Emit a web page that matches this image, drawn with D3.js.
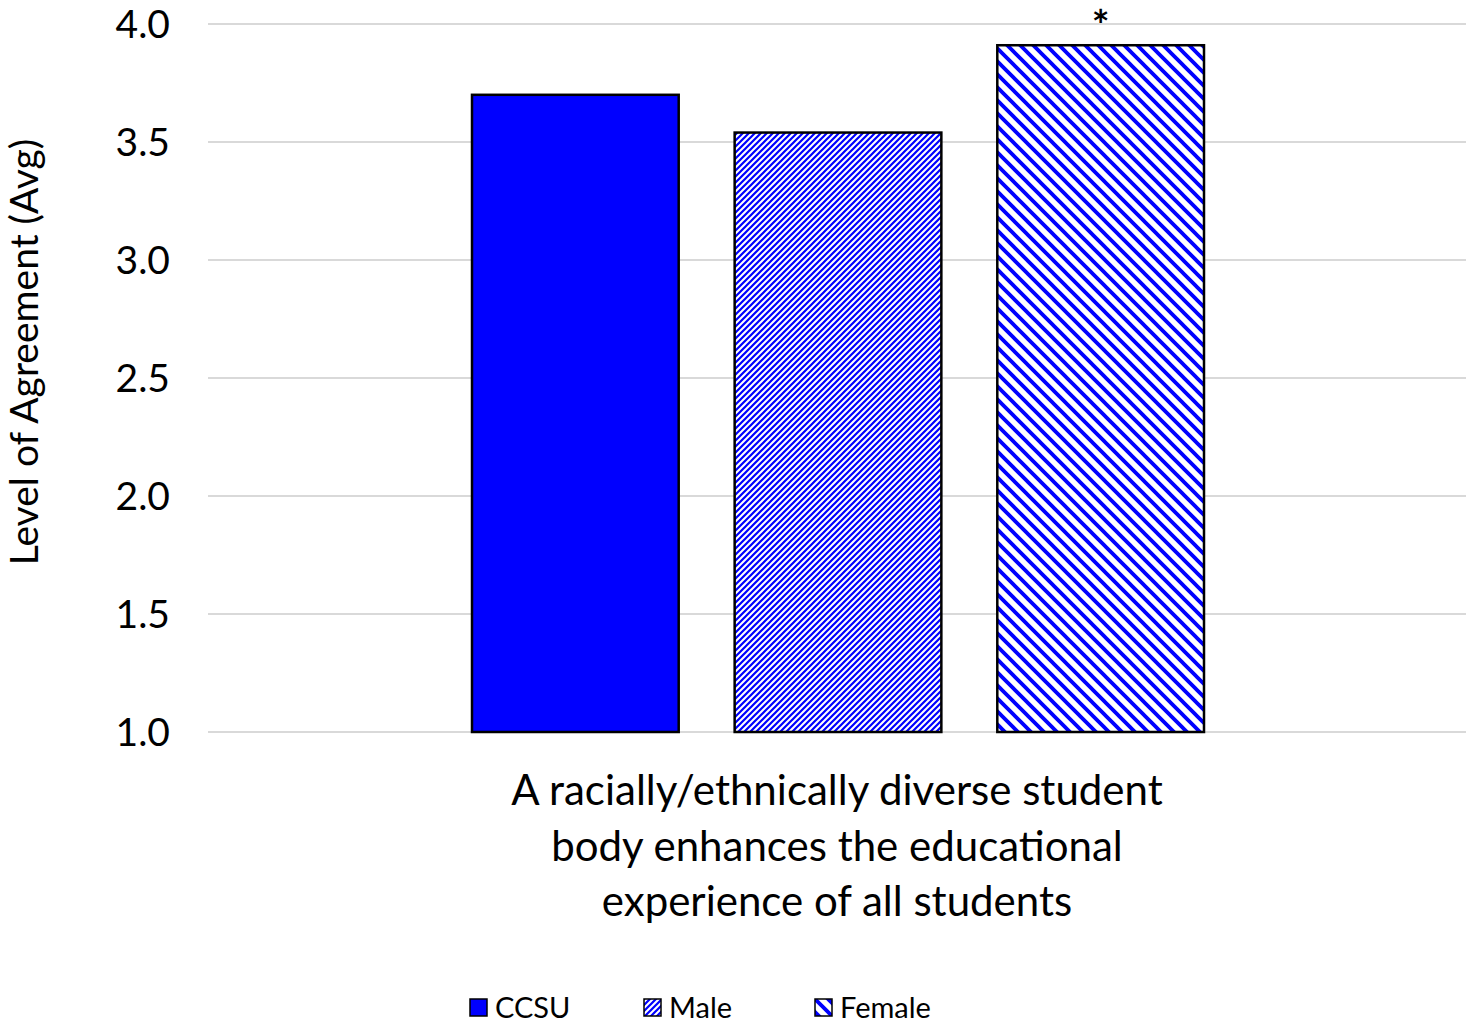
<!DOCTYPE html>
<html><head><meta charset="utf-8">
<script src="https://cdn.jsdelivr.net/npm/d3@7"></script>
<style>body{margin:0;background:#fff}svg{display:block}text{font-family:Lato,"Open Sans",sans-serif}</style>
</head><body>
<svg id="c" width="1468" height="1026"></svg>
<script>
const category = ["A racially/ethnically diverse student body enhances the educational experience of all students"];
const categoryLines = ["A racially/ethnically diverse student", "body enhances the educational", "experience of all students"];
const seriesNames = ["CCSU", "Male", "Female"];
const seriesValues = [3.70, 3.54, 3.91];
const significance = ["", "", "*"];
const yTicks = [1.0, 1.5, 2.0, 2.5, 3.0, 3.5, 4.0];

const svg = d3.select("#c");
const defs = svg.append("defs");
// Male: fine up-diagonal
const pm = defs.append("pattern").attr("id","pMale").attr("patternUnits","userSpaceOnUse")
  .attr("width",6).attr("height",6);
pm.append("rect").attr("width",6).attr("height",6).attr("fill","#fff");
pm.append("path").attr("d","M-1,1 l2,-2 M0,6 l6,-6 M5,7 l2,-2").attr("stroke","#0000ff").attr("stroke-width",2.2);
// Female: wide down-diagonal
const pf = defs.append("pattern").attr("id","pFemale").attr("patternUnits","userSpaceOnUse")
  .attr("width",13).attr("height",13);
pf.append("rect").attr("width",13).attr("height",13).attr("fill","#fff");
pf.append("path").attr("d","M-2,-2 l17,17 M-2,11 l4,4 M11,-2 l4,4").attr("stroke","#0000ff").attr("stroke-width",3.8);
const fills = ["#0000ff","url(#pMale)","url(#pFemale)"];

const x0 = d3.scaleBand().domain(category).range([208,1466]);
const x1 = d3.scaleBand().domain(seriesNames).range([x0(category[0]) + 264, x0(category[0]) + 996]).paddingInner(0.213);
const y = d3.scaleLinear().domain([1,4]).range([732,24]);

// gridlines
svg.append("g").selectAll("line").data(yTicks).join("line")
  .attr("x1",208).attr("x2",1466).attr("y1",d=>y(d)).attr("y2",d=>y(d))
  .attr("stroke","#d9d9d9").attr("stroke-width",2);

// y axis labels
const yAxis = d3.axisLeft(y).tickValues(yTicks).tickFormat(d3.format(".1f")).tickSize(0).tickPadding(0);
const ga = svg.append("g").attr("transform","translate(170,0)").call(yAxis);
ga.select(".domain").remove();
ga.selectAll("text").attr("font-size",39).attr("fill","#000").attr("font-family","Lato,'Open Sans',sans-serif").attr("dy","0.35em");

// bars
svg.append("g").selectAll("rect").data(seriesValues).join("rect")
  .attr("x",(d,i)=>x1(seriesNames[i])).attr("width",x1.bandwidth())
  .attr("y",d=>y(d)).attr("height",d=>y(1)-y(d))
  .attr("fill",(d,i)=>fills[i]).attr("stroke","#000").attr("stroke-width",2.5);

// significance
svg.append("g").selectAll("text").data(significance).join("text")
  .attr("x",(d,i)=>x1(seriesNames[i])+x1.bandwidth()/2).attr("y",(d,i)=>y(seriesValues[i])-4)
  .attr("text-anchor","middle").attr("font-size",42).attr("font-weight","bold").text(d=>d);

// category label
const cx = x0(category[0]) + x0.bandwidth()/2;
svg.append("g").selectAll("text").data(categoryLines).join("text")
  .attr("x",cx).attr("y",(d,i)=>805+i*55.5).attr("text-anchor","middle")
  .attr("font-size",42).attr("fill","#000").text(d=>d);

// y title
svg.append("text").attr("transform","translate(38,352) rotate(-90)").attr("text-anchor","middle")
  .attr("font-size",39).attr("fill","#000").text("Level of Agreement (Avg)");

// legend
const legX = [470, 644, 815];
const lg = svg.append("g").selectAll("g").data(seriesNames).join("g")
  .attr("transform",(d,i)=>`translate(${legX[i]},999)`);
lg.append("rect").attr("width",17).attr("height",17).attr("fill",(d,i)=>fills[i]).attr("stroke","#000").attr("stroke-width",1.5);
lg.append("text").attr("x",25).attr("y",19).attr("font-size",29).attr("fill","#000").text(d=>d);
</script>
</body></html>
